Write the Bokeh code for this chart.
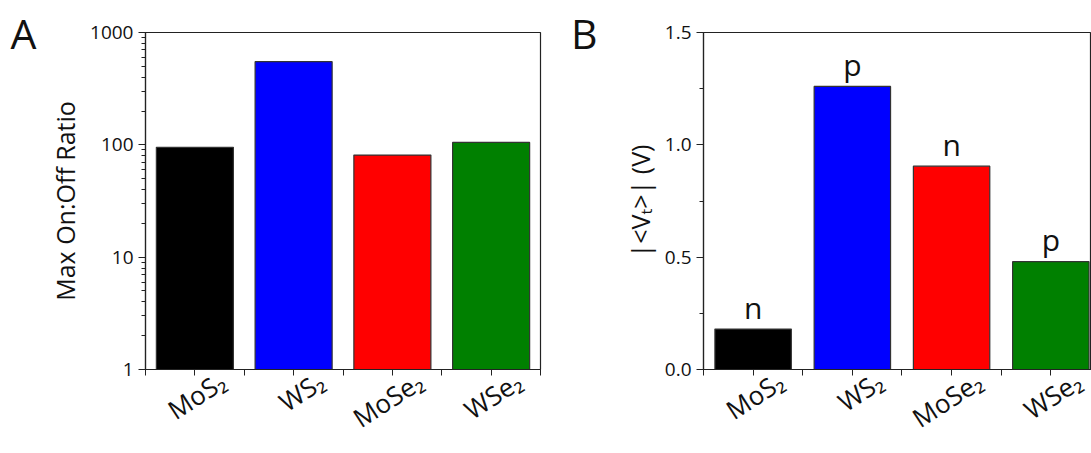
import math
from bokeh.plotting import figure
from bokeh.layouts import row
from bokeh.models import (FixedTicker, ColumnDataSource, PrintfTickFormatter, LogTicker,
                          LinearAxis)
from bokeh.core.properties import value
from bokeh.embed import file_html
from bokeh.resources import INLINE

materials = ["MoS₂", "WS₂", "MoSe₂", "WSe₂"]
bar_colors = ["#000000", "#0000FF", "#FF0000", "#008000"]
on_off_ratio = [95, 550, 81, 105]
threshold_v = [0.18, 1.26, 0.905, 0.48]
carrier_type = ["n", "p", "n", "p"]
panel_letters = ["A", "B"]

FONT = "Open Sans"
positions = [1, 2, 3, 4]
LABEL_SHIFT = 0.28  # horizontal shift of the slanted category labels (style)


def style(p):
    p.outline_line_color = "#222222"
    p.outline_line_width = 1.2
    p.grid.visible = False
    p.background_fill_color = "white"
    p.border_fill_color = "white"
    for ax in (p.xaxis[0], p.yaxis[0]):
        ax.axis_line_color = "#222222"
        ax.axis_line_width = 1.2
        ax.major_tick_line_color = "#222222"
        ax.minor_tick_line_color = "#222222"
        ax.major_tick_in = 0
        ax.major_tick_out = 7
        ax.minor_tick_in = 0
        ax.minor_tick_out = 4
        ax.major_label_text_font = FONT
        ax.axis_label_text_font = FONT
        ax.axis_label_text_font_style = "normal"
        ax.axis_label_text_color = "#111111"
        ax.major_label_text_color = "#111111"
    # category axis: ticks at centres and boundaries (minor), slanted labels (major)
    shifted = [x + LABEL_SHIFT for x in positions]
    boundaries = [x - 0.5 for x in positions] + [positions[-1] + 0.5]
    xa = p.xaxis[0]
    xa.ticker = FixedTicker(ticks=shifted, minor_ticks=sorted(positions + boundaries))
    xa.major_label_overrides = {s: m for s, m in zip(shifted, materials)}
    xa.major_tick_out = 0
    xa.minor_tick_out = 6
    xa.major_label_orientation = math.radians(33)
    xa.major_label_text_font_size = "26px"
    xa.major_label_standoff = 3
    p.yaxis.major_label_text_font_size = "19px"
    p.yaxis.axis_label_text_font_size = "25px"


def panel_letter(p, letter, at, standoff):
    ax = LinearAxis(ticker=FixedTicker(ticks=[at], minor_ticks=[]),
                    major_label_overrides={at: letter},
                    axis_line_color=None, major_tick_line_color=None,
                    major_tick_in=0, major_tick_out=0,
                    major_label_orientation="horizontal",
                    major_label_text_font=FONT, major_label_text_font_size="41px",
                    major_label_text_color="#111111", major_label_standoff=standoff)
    p.add_layout(ax, "left")


# Panel A
pa = figure(width=560, height=453, y_axis_type="log", x_range=(0.5, 4.5), y_range=(1, 1000),
            output_backend="svg", toolbar_location=None,
            min_border_left=145, min_border_right=20, min_border_top=32, min_border_bottom=75)
src_a = ColumnDataSource(dict(x=positions, top=on_off_ratio, color=bar_colors))
pa.vbar(x="x", top="top", bottom=1, width=0.78, fill_color="color", line_color="#333333",
        line_width=1.2, source=src_a)
style(pa)
pa.yaxis.ticker = LogTicker(num_minor_ticks=10)
pa.yaxis.formatter = PrintfTickFormatter(format="%d")
pa.yaxis.axis_label = "Max On:Off Ratio"
panel_letter(pa, panel_letters[0], 1000, 9)

# Panel B
pb = figure(width=531, height=453, x_range=(0.5, 4.41), y_range=(0, 1.5),
            output_backend="svg", toolbar_location=None,
            min_border_left=143, min_border_right=0, min_border_top=32, min_border_bottom=75)
src_b = ColumnDataSource(dict(x=positions, top=threshold_v, color=bar_colors, lab=carrier_type))
pb.vbar(x="x", top="top", bottom=0, width=0.77, fill_color="color", line_color="#333333",
        line_width=1.2, source=src_b)
pb.text(x="x", y="top", text="lab", source=src_b, text_font=value(FONT), text_font_size="30px",
        text_align="center", text_baseline="alphabetic", y_offset=-22, text_color="#111111")
style(pb)
pb.yaxis.ticker = FixedTicker(ticks=[0, 0.5, 1.0, 1.5], minor_ticks=[0.25, 0.75, 1.25])
pb.yaxis.formatter = PrintfTickFormatter(format="%.1f")
pb.yaxis.axis_label = "|<Vₜ>| (V)"
panel_letter(pb, panel_letters[1], 1.5, 22)

layout = row(pa, pb)
open("out.html", "w").write(file_html(layout, INLINE))
